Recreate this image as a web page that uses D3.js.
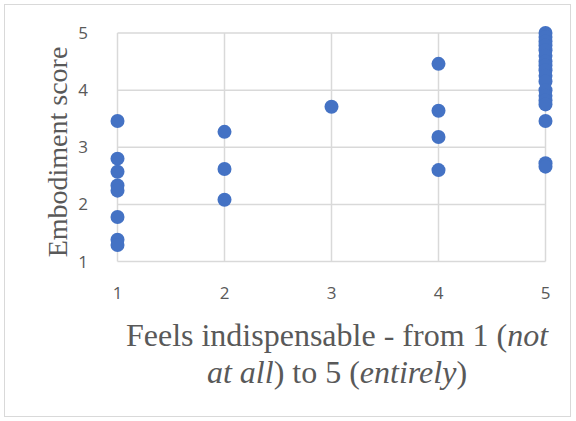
<!DOCTYPE html>
<html><head><meta charset="utf-8">
<script src="https://cdn.jsdelivr.net/npm/d3@7"></script>
<style>body{margin:0;background:#fff}</style>
</head><body>
<svg id="c" width="576" height="421"></svg>
<script>
const xs1 = [1,1,1,1,1,1,1,1];
const ys1 = [3.46,2.80,2.57,2.33,2.24,1.78,1.38,1.29];
const xs2 = [2,2,2];
const ys2 = [3.27,2.62,2.08];
const xs3 = [3];
const ys3 = [3.71];
const xs4 = [4,4,4,4];
const ys4 = [4.46,3.64,3.18,2.60];
const xs5 = [5,5,5,5,5,5,5,5,5,5,5,5,5,5,5,5,5,5];
const ys5 = [5.0,4.93,4.85,4.78,4.70,4.60,4.50,4.43,4.35,4.25,4.15,4.0,3.9,3.82,3.75,3.46,2.72,2.66];
const xTicks = [1,2,3,4,5];
const yTicks = [1,2,3,4,5];

const pts = [];
[[xs1,ys1],[xs2,ys2],[xs3,ys3],[xs4,ys4],[xs5,ys5]].forEach(([a,b])=>a.forEach((v,i)=>pts.push({x:v,y:b[i]})));

const svg = d3.select("#c");
svg.append("rect").attr("x",4.5).attr("y",4.5).attr("width",566).attr("height",412)
  .attr("fill","#fff").attr("stroke","#d9d9d9");

const x = d3.scaleLinear().domain([1,5]).range([117.5,545.5]);
const y = d3.scaleLinear().domain([1,5]).range([261.5,33]);

const g = svg.append("g");
g.selectAll(".vg").data(xTicks).enter().append("line")
  .attr("x1",d=>x(d)).attr("x2",d=>x(d)).attr("y1",y(1)).attr("y2",y(5))
  .attr("stroke","#d9d9d9").attr("stroke-width",1.5);
g.selectAll(".hg").data(yTicks).enter().append("line")
  .attr("x1",x(1)).attr("x2",x(5)).attr("y1",d=>y(d)).attr("y2",d=>y(d))
  .attr("stroke","#d9d9d9").attr("stroke-width",1.5);

const tf = "'Open Sans', Lato, sans-serif";
g.selectAll(".yt").data(yTicks).enter().append("text")
  .attr("x",88).attr("y",d=>y(d)).attr("dy","0.36em").attr("text-anchor","end")
  .attr("font-family",tf).attr("font-size",17).attr("fill","#595959").text(d=>d);
g.selectAll(".xt").data(xTicks).enter().append("text")
  .attr("x",d=>x(d)).attr("y",299).attr("text-anchor","middle")
  .attr("font-family",tf).attr("font-size",17).attr("fill","#595959").text(d=>d);

g.selectAll("circle").data(pts).enter().append("circle")
  .attr("cx",d=>x(d.x)).attr("cy",d=>y(d.y)).attr("r",7).attr("fill","#4472C4");

const sf = "'Liberation Serif', 'Times New Roman', serif";
svg.append("text").attr("transform","translate(67,152) rotate(-90)")
  .attr("text-anchor","middle").attr("font-family",sf).attr("font-size",28)
  .attr("fill","#595959").text("Embodiment score");

const t1 = svg.append("text").attr("x",337).attr("y",346).attr("text-anchor","middle")
  .attr("font-family",sf).attr("font-size",32).attr("fill","#595959");
t1.append("tspan").text("Feels indispensable - from 1 (");
t1.append("tspan").attr("font-style","italic").text("not");
const t2 = svg.append("text").attr("x",337).attr("y",383).attr("text-anchor","middle")
  .attr("font-family",sf).attr("font-size",32).attr("fill","#595959");
t2.append("tspan").attr("font-style","italic").text("at all");
t2.append("tspan").text(") to 5 (");
t2.append("tspan").attr("font-style","italic").text("entirely");
t2.append("tspan").text(")");
</script>
</body></html>
